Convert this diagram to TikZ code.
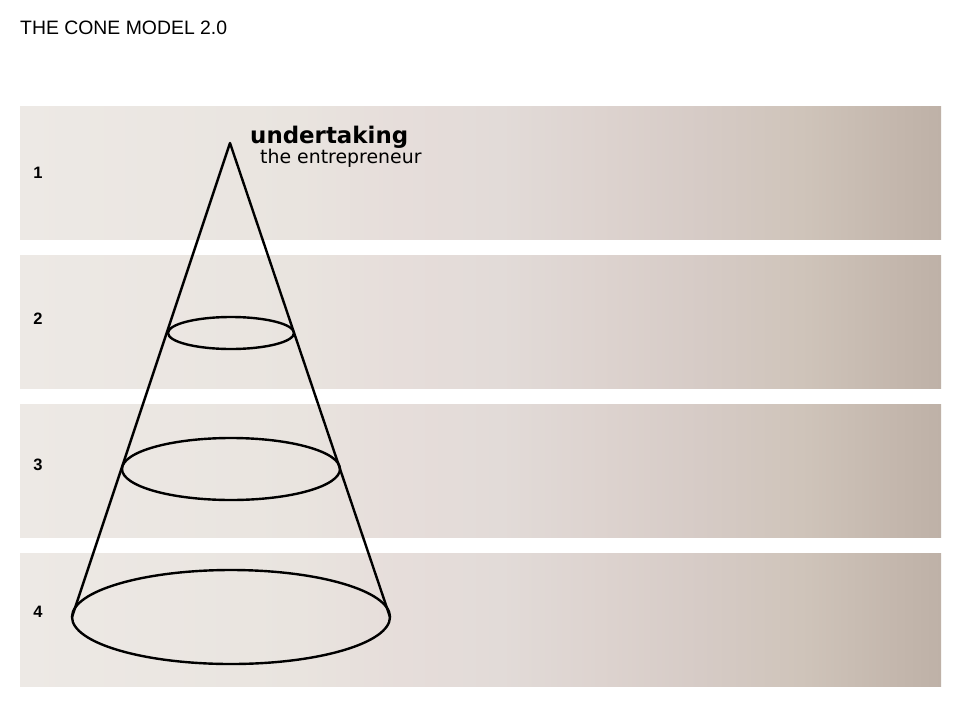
\documentclass[tikz,border=0pt]{standalone}
\usepackage{fontspec}
\setmainfont{Liberation Sans}
\newfontfamily\apexfont{DejaVu Sans}
\usetikzlibrary{calc}

% warm grey band gradient, light on the left, taupe on the right
\definecolor{bandA}{HTML}{EDE9E5}
\definecolor{bandB}{HTML}{E9E4DF}
\definecolor{bandC}{HTML}{E6DDDA}
\definecolor{bandD}{HTML}{E2DBD8}
\definecolor{bandE}{HTML}{DDD3CF}
\definecolor{bandF}{HTML}{D6CBC6}
\definecolor{bandG}{HTML}{CFC4BA}
\definecolor{bandH}{HTML}{C3B6AC}
\definecolor{bandI}{HTML}{BEB1A7}
\pgfdeclarehorizontalshading{bandshade}{100bp}{%
  color(0bp)=(bandA); color(25bp)=(bandA); color(40.2bp)=(bandB);
  color(45.6bp)=(bandC); color(51.1bp)=(bandD); color(56.5bp)=(bandE);
  color(61.9bp)=(bandF); color(67.4bp)=(bandG); color(72.8bp)=(bandH);
  color(75bp)=(bandI); color(100bp)=(bandI)}

\tikzset{
  band/.style={shading=bandshade, draw=none},
  levelnum/.style={font=\bfseries\fontsize{16.5}{18}\selectfont, inner sep=0pt},
  coneline/.style={line width=2.4pt, line join=round},
}

\begin{document}
\begin{tikzpicture}[x=1pt, y=-1pt]
  \useasboundingbox (0,0) rectangle (960,720);
  \fill[white] (0,0) rectangle (960,720);

  % title
  \node[anchor=base west, inner sep=0pt, font=\fontsize{19.4}{21}\selectfont] (title) at (20,34) {THE CONE MODEL 2.0};

  % four horizontal level bands
  \path[band] (20,106) rectangle (941,239);
  \path[band] (20,255) rectangle (941,388);
  \path[band] (20,404) rectangle (941,537);
  \path[band] (20,553) rectangle (941,686);

  % level numbers
  \node[levelnum] (n1) at (38,173) {1};
  \node[levelnum] (n2) at (38,319) {2};
  \node[levelnum] (n3) at (38,465) {3};
  \node[levelnum] (n4) at (38,612) {4};

  % cone: apex, sides and three cross sections
  \coordinate (apex) at (230,143);
  \coordinate (baseL) at (72,617);
  \coordinate (baseR) at (390,617);
  \draw[coneline] (baseL) -- (apex) -- (baseR);
  \draw[coneline] (231,333) ellipse [x radius=63, y radius=16];
  \draw[coneline] (231,469) ellipse [x radius=109, y radius=31];
  \draw[coneline] (231,617) ellipse [x radius=159, y radius=47];

  % apex labels
  \node[anchor=base west, inner sep=0pt, font=\apexfont\bfseries\fontsize{22.9}{25}\selectfont] (head) at (250,143) {undertaking};
  \node[anchor=base west, inner sep=0pt, font=\apexfont\fontsize{18.9}{21}\selectfont] (sub) at (260,163) {the entrepreneur};
\end{tikzpicture}
\end{document}
